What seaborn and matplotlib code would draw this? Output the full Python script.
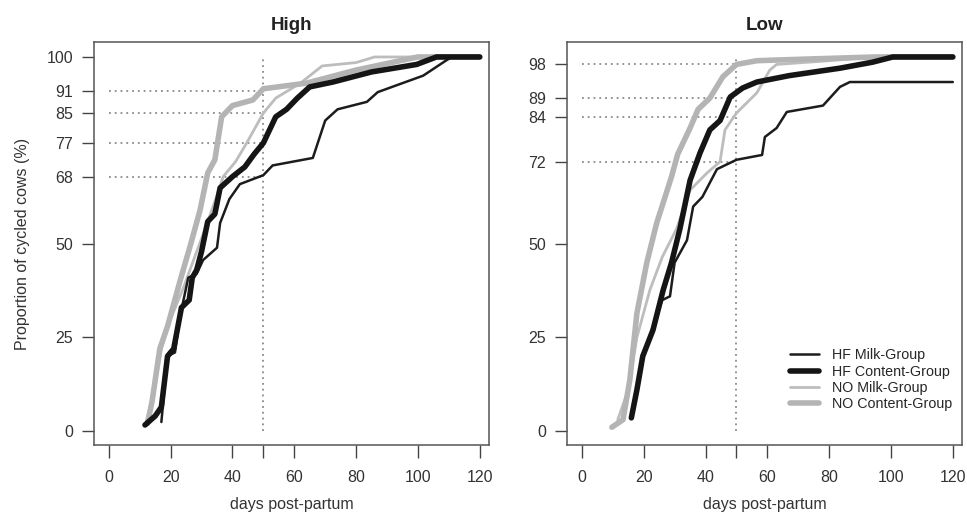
import pandas as pd
import seaborn as sns
import matplotlib.pyplot as plt

sns.set_style("ticks")
plt.rcParams['font.family'] = ['Liberation Sans', 'DejaVu Sans']

# ---- data: High panel
high_hf_milk_day = [17, 19, 21.4, 23, 25.7, 28.4, 30.5, 35, 36, 39, 42.4, 50, 53, 66, 70, 74, 83.5, 87, 95, 101.7, 109, 111, 120]
high_hf_milk_pct = [2.4, 20, 21, 30.5, 41, 42, 45.7, 49, 55.6, 62, 66, 68.4, 71, 73, 83, 86, 88, 90.6, 93, 95, 99, 100, 100]
high_hf_content_day = [11.7, 15, 17, 19, 21, 23.5, 26, 27, 28.4, 30, 32, 34.3, 36, 40, 44, 47, 50, 54, 57.5, 61, 65, 72.5, 85, 99.6, 106, 120]
high_hf_content_pct = [1.6, 4, 6.4, 20, 22, 33, 35, 41, 43, 48, 56, 58, 65, 68, 70.6, 74, 77, 84, 86, 89, 92, 93.3, 96, 98, 100, 100]
high_no_milk_day = [12, 14.5, 17, 20, 24, 28, 32, 35, 37, 41, 44.6, 50, 54, 58, 62, 69, 80, 86, 120]
high_no_milk_pct = [2, 10, 22, 30, 38, 47, 56, 63, 68, 72, 77, 85, 89, 91, 93, 97.6, 98.5, 100, 100]
high_no_content_day = [12.5, 14, 16.5, 19, 23, 26.5, 29.5, 32, 34.3, 36.5, 40, 46.6, 50, 64, 80, 100, 120]
high_no_content_pct = [2, 8, 22, 28, 40, 50, 59, 69, 72.5, 84, 87, 88.5, 91.5, 93, 96.5, 100, 100]

# ---- Low panel
low_hf_milk_day = [16, 18, 20, 23, 26, 28.5, 30, 34, 36, 39, 43.7, 50, 58.3, 59.2, 63, 66.3, 78, 83.5, 86.7, 120]
low_hf_milk_pct = [3.7, 12, 20, 28, 35, 36, 45, 51, 60, 62.6, 70, 72.5, 73.8, 78.6, 81, 85.3, 87, 92, 93.3, 93.3]
low_hf_content_day = [16, 17.8, 19.7, 23, 26.3, 29, 31.7, 35, 38.2, 41.4, 44.7, 48, 52, 56.6, 67, 83.5, 94, 100.6, 120]
low_hf_content_pct = [3.5, 11, 20, 27, 37.7, 45, 54, 67, 74.3, 80.5, 83, 89.3, 91.7, 93.3, 95, 97, 98.6, 100, 100]
low_no_milk_day = [11.6, 15, 17.8, 22, 26, 30.6, 35, 40.5, 44.7, 46.3, 50, 56.6, 60.8, 63, 80, 95, 120]
low_no_milk_pct = [3, 11, 25, 37.7, 46.5, 54, 64.4, 69, 72, 80.5, 85, 90.4, 96.5, 98, 99, 100, 100]
low_no_content_day = [9.7, 13.3, 15.5, 17.8, 21, 24.2, 26.3, 29, 31, 35, 37.6, 41.4, 45.6, 50, 56.6, 75, 95, 120]
low_no_content_pct = [1, 3, 13.6, 31.5, 45, 55.6, 61, 68, 74, 81, 86, 89, 94.7, 98, 99, 99.5, 100, 100]

# reference values at day 50
high_refs = [68, 77, 85, 91]
low_refs = [72, 84, 89, 98]
high_yticks = [0, 25, 50, 68, 77, 85, 91, 100]
low_yticks = [0, 25, 50, 72, 84, 89, 98]
cutoff_day = 50

x_ticks = [0, 20, 40, 50, 60, 80, 100, 120]
x_labels = ['0', '20', '40', '', '60', '80', '100', '120']

# draw order: greys under blacks
groups = ['NO Milk-Group', 'NO Content-Group', 'HF Milk-Group', 'HF Content-Group']
legend_order = ['HF Milk-Group', 'HF Content-Group', 'NO Milk-Group', 'NO Content-Group']
style = {
    'HF Milk-Group': ('#1c1c1c', 1.8),
    'HF Content-Group': ('#151515', 4.0),
    'NO Milk-Group': ('#bdbdbd', 2.0),
    'NO Content-Group': ('#b4b4b4', 4.0),
}


def make_df(hm_d, hm_p, hc_d, hc_p, nm_d, nm_p, nc_d, nc_p):
    parts = []
    for name, d, p in [('HF Milk-Group', hm_d, hm_p), ('HF Content-Group', hc_d, hc_p),
                       ('NO Milk-Group', nm_d, nm_p), ('NO Content-Group', nc_d, nc_p)]:
        parts.append(pd.DataFrame({'day': d, 'pct': p, 'group': name}))
    return pd.concat(parts, ignore_index=True)


high_df = make_df(high_hf_milk_day, high_hf_milk_pct, high_hf_content_day, high_hf_content_pct,
                  high_no_milk_day, high_no_milk_pct, high_no_content_day, high_no_content_pct)
low_df = make_df(low_hf_milk_day, low_hf_milk_pct, low_hf_content_day, low_hf_content_pct,
                 low_no_milk_day, low_no_milk_pct, low_no_content_day, low_no_content_pct)

fig = plt.figure(figsize=(9.67, 5.16), dpi=100)
ax1 = fig.add_axes([0.0972, 0.1376, 0.4085, 0.781])
ax2 = fig.add_axes([0.5864, 0.1376, 0.4085, 0.781])


def draw_panel(ax, df, refs, yticks, title):
    ax.vlines(cutoff_day, 0, 100, colors='#8a8a8a', linestyles=(0, (1, 2.2)), linewidth=1.3, zorder=1)
    ax.hlines(refs, 0, cutoff_day, colors='#8a8a8a', linestyles=(0, (1, 2.2)), linewidth=1.3, zorder=1)
    for g in groups:
        col, lw = style[g]
        sub = df[df['group'] == g]
        sns.lineplot(data=sub, x='day', y='pct', ax=ax, color=col, linewidth=lw,
                     estimator=None, sort=False, label=g, zorder=3,
                     solid_capstyle='round', solid_joinstyle='round')
    ax.set_xlim(-4.8, 123)
    ax.set_ylim(-3.75, 104)
    ax.set_xticks(x_ticks)
    ax.set_xticklabels(x_labels)
    ax.set_yticks(yticks)
    ax.tick_params(axis='both', labelsize=11.5, color='#444444', length=9, width=1, labelcolor='#333333')
    ax.tick_params(axis='x', pad=9)
    ax.tick_params(axis='y', pad=6)
    for s in ax.spines.values():
        s.set_color('#555555')
        s.set_linewidth(1.1)
    ax.set_xlabel('days post-partum', fontsize=11.5, color='#333333', labelpad=9)
    ax.set_ylabel('')
    ax.set_title(title, fontsize=13.5, fontweight='bold', color='#222222', pad=9)


draw_panel(ax1, high_df, high_refs, high_yticks, 'High')
draw_panel(ax2, low_df, low_refs, low_yticks, 'Low')
ax1.set_ylabel('Proportion of cycled cows (%)', fontsize=11.5, color='#333333', labelpad=12)
ax1.get_legend().remove()

handles, labels = ax2.get_legend_handles_labels()
order = [labels.index(g) for g in legend_order]
ax2.legend([handles[i] for i in order], [labels[i] for i in order], loc='lower right',
           frameon=False, fontsize=10.3, handlelength=2.0, handletextpad=0.9,
           labelspacing=0.15, borderaxespad=0.3, bbox_to_anchor=(1.0, 0.06))

fig.savefig('out.png', dpi=100)
